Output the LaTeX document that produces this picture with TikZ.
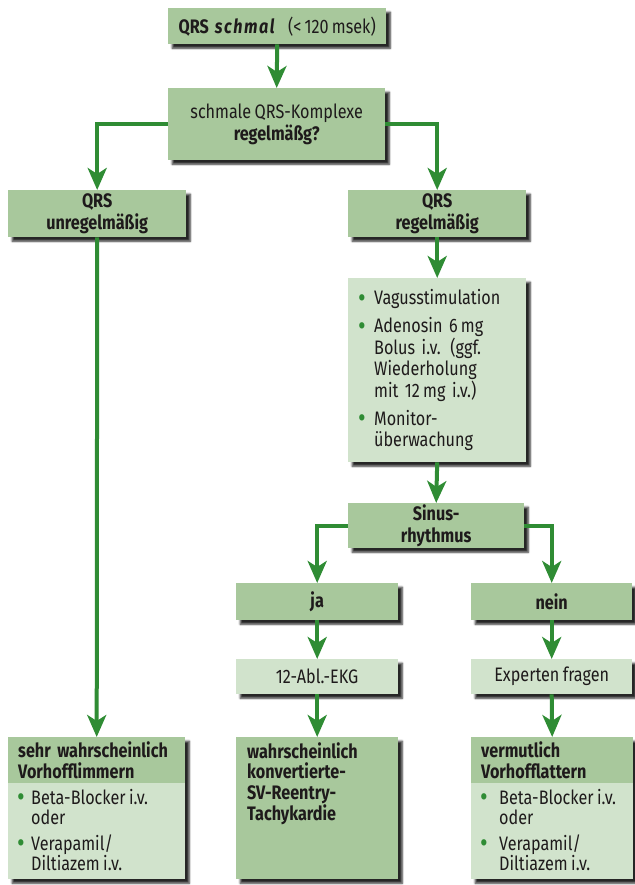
\documentclass[tikz,border=0pt]{standalone}
\usepackage{fontspec}
\setmainfont{Fira Sans}[FakeStretch=0.83, WordSpace=0.8]
\usetikzlibrary{arrows.meta,shadows.blur,calc}
\definecolor{boxdark}{HTML}{A8C89C}
\definecolor{boxlight}{HTML}{D1E3CC}
\definecolor{flowgreen}{HTML}{2F8C34}
\definecolor{ink}{HTML}{1E1A1B}
% bullet of a given width, and the matching hanging indent
\newcommand\bul[1]{\makebox[#1][l]{\raisebox{-0.25ex}{\textcolor{flowgreen}{\scalebox{1.45}{\textbullet}}}}}
\newcommand\ind[1]{\hspace*{#1}}
\begin{document}
\begin{tikzpicture}[x=1pt,y=-1pt,
  every node/.style={font=\fontsize{19.5}{21.5}\selectfont, text=ink, inner sep=0pt},
  boxshadow/.style={blur shadow={shadow xshift=4pt, shadow yshift=-4pt,
      shadow blur radius=2pt, shadow blur steps=6, shadow opacity=85}},
  darkbox/.style={rectangle, fill=boxdark, boxshadow, anchor=north west, align=center},
  lightbox/.style={rectangle, fill=boxlight, boxshadow, anchor=north west, align=center},
  boldtext/.style={font=\fontsize{19.5}{22}\selectfont\bfseries},
  headbox/.style={rectangle, fill=boxdark, anchor=north west, align=left,
      inner xsep=10pt, font=\fontsize{19.5}{21}\selectfont\bfseries},
  listtext/.style={anchor=north west, align=left, font=\fontsize{19.5}{20}\selectfont},
  flow/.style={draw=flowgreen, line width=4pt, line join=miter,
      -{Stealth[length=22pt, width=19pt, inset=6pt]}},
]
\useasboundingbox (0,0) rectangle (634,885);

% top of the decision tree
\node[darkbox, minimum width=218pt, minimum height=36pt] (b1) at (168,8)
  {\textbf{QRS}\hspace{6pt}\textbf{\textit{\addfontfeatures{LetterSpace=8}schmal}}\hspace{12pt}(<\,120\,msek)};
\node[darkbox, minimum width=217pt, minimum height=72pt] (b2) at (168,88)
  {schmale QRS-Komplexe\\\textbf{regelmäßg?}};

\node[darkbox, boldtext, minimum width=178pt, minimum height=47pt] (bL) at (8,190)
  {QRS\\unregelmäßig};
\node[darkbox, boldtext, minimum width=178pt, minimum height=47pt] (bR) at (348,190)
  {QRS\\regelmäßig};

% treatment steps for regular QRS
\node[lightbox, minimum width=178pt, minimum height=184pt, text width=158pt,
      inner xsep=10pt, align=left] (vag) at (348,278)
  {\bul{16pt}Vagusstimulation\\[6.5pt]
   \bul{16pt}Adenosin 6\,mg\\
   \ind{16pt}Bolus i.v. (ggf.\\
   \ind{16pt}Wiederholung\\
   \ind{16pt}mit 12\,mg i.v.)\\[6.5pt]
   \bul{16pt}Monitor-\\
   \ind{16pt}überwachung};

\node[darkbox, boldtext, minimum width=176pt, minimum height=45pt] (sinus) at (348,503)
  {Sinus-\\rhythmus};

\node[darkbox, boldtext, minimum width=162pt, minimum height=37pt] (ja) at (236,583) {ja};
\node[darkbox, boldtext, minimum width=161pt, minimum height=37pt] (nein) at (471,583) {nein};

\node[lightbox, minimum width=162pt, minimum height=35pt] (ekg) at (236,659) {12-Abl.-EKG};
\node[lightbox, minimum width=161pt, minimum height=35pt] (exp) at (471,659) {Experten fragen};

% diagnoses at the bottom
\node[lightbox, minimum width=177pt, minimum height=142pt] (botL) at (8,737) {};
\node[headbox, minimum width=177pt, minimum height=46pt, text width=157pt] (botLh) at (botL.north west)
  {sehr wahrscheinlich\\Vorhofflimmern};
\node[listtext] (botLl) at ($(botL.north west)+(9,52)$)
  {\bul{14pt}Beta-Blocker i.v.\\
   \ind{14pt}oder\\[6pt]
   \bul{14pt}Verapamil/\\
   \ind{14pt}Diltiazem i.v.};

\node[darkbox, minimum width=162pt, minimum height=142pt] (botM) at (236,737) {};
\node[anchor=north west, align=left, font=\fontsize{19.5}{20.8}\selectfont\bfseries] (botMt)
  at ($(botM.north west)+(11,5)$)
  {wahrscheinlich\\konvertierte-\\SV-Reentry-\\Tachykardie};

\node[lightbox, minimum width=162pt, minimum height=142pt] (botR) at (471,737) {};
\node[headbox, minimum width=162pt, minimum height=46pt, text width=142pt] (botRh) at (botR.north west)
  {vermutlich\\Vorhofflattern};
\node[listtext] (botRl) at ($(botR.north west)+(9,52)$)
  {\bul{19pt}Beta-Blocker i.v.\\
   \ind{19pt}oder\\[6pt]
   \bul{19pt}Verapamil/\\
   \ind{19pt}Diltiazem i.v.};

% connectors
\draw[flow] (b1.south) -- (b2.north);
\draw[flow] (b2.west) -| (bL.north);
\draw[flow] (b2.east) -| (bR.north);
\draw[flow] (bR.south) -- (vag.north);
\draw[flow] (vag.south) -- (sinus.north);
\draw[flow] (sinus.west) -| (ja.north);
\draw[flow] (sinus.east) -| (nein.north);
\draw[flow] (ja.south) -- (ekg.north);
\draw[flow] (nein.south) -- (exp.north);
\draw[flow] (bL.south) -- (botL.north);
\draw[flow] (ekg.south) -- (botM.north);
\draw[flow] (exp.south) -- (botR.north);
\end{tikzpicture}
\end{document}
